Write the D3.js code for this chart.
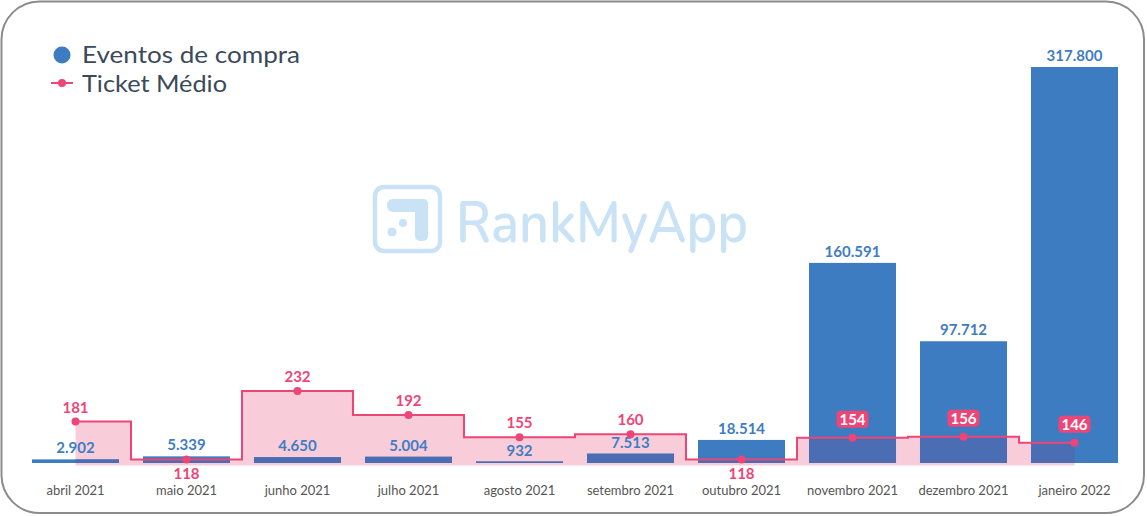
<!DOCTYPE html>
<html>
<head>
<meta charset="utf-8">
<script src="https://cdn.jsdelivr.net/npm/d3@7"></script>
<style>
  html, body { margin: 0; padding: 0; background: #ffffff; }
  svg { display: block; }
</style>
</head>
<body>
<svg id="chart" width="1147" height="516"></svg>
<script>
// ---- Data ----
const categories = ["abril 2021", "maio 2021", "junho 2021", "julho 2021", "agosto 2021",
  "setembro 2021", "outubro 2021", "novembro 2021", "dezembro 2021", "janeiro 2022"];
const eventosCompra = [2902, 5339, 4650, 5004, 932, 7513, 18514, 160591, 97712, 317800];
const ticketMedio = [181, 118, 232, 192, 155, 160, 118, 154, 156, 146];
const seriesNames = ["Eventos de compra", "Ticket Médio"];

// ---- Styles ----
const BLUE = "#3d7cc1";
const BLUE_TEXT = "#3f7dc4";
const PINK = "#ee4577";
const PINK_FILL = "#f8cdd9";
const OVERLAP = "#4a6db3";
const FONT = "Lato, 'Noto Sans', sans-serif";

const W = 1147, H = 516;
const svg = d3.select("#chart");

// card
svg.append("rect")
  .attr("x", 1.5).attr("y", 1.5).attr("width", 1142.5).attr("height", 511.5)
  .attr("rx", 38).attr("ry", 38)
  .attr("fill", "#ffffff").attr("stroke", "#8c8c8c").attr("stroke-width", 2);

// watermark
const wm = svg.append("g").attr("fill", "#c9e2f5");
wm.append("rect").attr("x", 375).attr("y", 187).attr("width", 65).attr("height", 64)
  .attr("rx", 9).attr("fill", "none").attr("stroke", "#c9e2f5").attr("stroke-width", 4.5);
wm.append("path")
  .attr("d", "M393,199 H423 Q428,199 428,204 V236 Q428,241 421.5,241 Q415,241 415,236 V212 H393 Q387,212 387,205.5 Q387,199 393,199 Z");
wm.append("circle").attr("cx", 403).attr("cy", 223).attr("r", 4);
wm.append("circle").attr("cx", 392).attr("cy", 232).attr("r", 4.5);
wm.append("text").attr("x", 456).attr("y", 242)
  .attr("font-family", "'Nunito', 'Open Sans', Lato, sans-serif")
  .attr("font-size", 58).attr("font-weight", 600)
  .attr("textLength", 292).attr("lengthAdjust", "spacingAndGlyphs")
  .text("RankMyApp");

// ---- Scales ----
const x = d3.scaleBand().domain(categories).range([20, 1130])
  .paddingInner(0.216).paddingOuter(0.108);
const yBar = d3.scaleLinear().domain([0, 317800]).range([463, 67]);
const yLine = d3.scaleLinear().domain([108, 300]).range([465.5, 350.1]);

const cx = c => x(c) + x.bandwidth() / 2;
const fmt = d3.formatLocale({ decimal: ",", thousands: ".", grouping: [3], currency: ["", ""] }).format(",d");

const rows = categories.map((c, i) => ({ c, ev: eventosCompra[i], tk: ticketMedio[i] }));

// pink area (behind bars)
const area = d3.area().curve(d3.curveStep)
  .x(d => cx(d.c)).y0(yLine.range()[0]).y1(d => yLine(d.tk));
svg.append("path").datum(rows).attr("d", area).attr("fill", PINK_FILL);

// bars
const barY = v => Math.min(yBar(v), yBar(0) - 1.5);
svg.append("g").selectAll("rect").data(rows).join("rect")
  .attr("x", d => x(d.c)).attr("width", x.bandwidth())
  .attr("y", d => barY(d.ev)).attr("height", d => yBar(0) - barY(d.ev))
  .attr("fill", BLUE);

// overlap of area over bars
const clip = svg.append("defs").append("clipPath").attr("id", "barclip");
clip.selectAll("rect").data(rows).join("rect")
  .attr("x", d => x(d.c)).attr("width", x.bandwidth())
  .attr("y", d => barY(d.ev)).attr("height", d => yBar(0) - barY(d.ev));
svg.append("path").datum(rows).attr("d", area).attr("fill", OVERLAP)
  .attr("clip-path", "url(#barclip)");

// bar labels
svg.append("g").selectAll("text").data(rows).join("text")
  .attr("x", d => cx(d.c)).attr("y", d => barY(d.ev) - 6)
  .attr("text-anchor", "middle")
  .attr("font-family", FONT).attr("font-size", 15).attr("font-weight", 700)
  .attr("fill", BLUE_TEXT)
  .text(d => fmt(d.ev));

// step line
const line = d3.line().curve(d3.curveStep).x(d => cx(d.c)).y(d => yLine(d.tk));
svg.append("path").datum(rows).attr("d", line)
  .attr("fill", "none").attr("stroke", PINK).attr("stroke-width", 2);
svg.append("g").selectAll("circle").data(rows).join("circle")
  .attr("cx", d => cx(d.c)).attr("cy", d => yLine(d.tk)).attr("r", 4)
  .attr("fill", PINK);

// ticket labels
const minTk = d3.min(ticketMedio);
const tl = svg.append("g");
rows.forEach(d => {
  const px = cx(d.c), py = yLine(d.tk);
  const overBar = barY(d.ev) < py - 26;
  if (overBar) {
    const cy = py - 18.5;
    tl.append("rect").attr("x", px - 16).attr("y", cy - 8.5).attr("width", 32).attr("height", 17)
      .attr("rx", 4).attr("fill", PINK);
    tl.append("text").attr("x", px).attr("y", cy + 5.5).attr("text-anchor", "middle")
      .attr("font-family", FONT).attr("font-size", 15).attr("font-weight", 700)
      .attr("fill", "#ffffff").text(fmt(d.tk));
  } else {
    const below = d.tk === minTk;
    tl.append("text").attr("x", px).attr("y", below ? py + 19.5 : py - 9)
      .attr("text-anchor", "middle")
      .attr("font-family", FONT).attr("font-size", 15).attr("font-weight", 700)
      .attr("fill", PINK).text(fmt(d.tk));
  }
});

// x axis labels
const xAxis = d3.axisBottom(x).tickSize(0).tickPadding(0);
const gx = svg.append("g").attr("transform", "translate(0,486)").call(xAxis);
gx.select(".domain").remove();
gx.selectAll("text").attr("font-family", FONT).attr("font-size", 13).attr("fill", "#555555")
  .attr("dy", "0.71em");

// legend
const legendWidths = [218, 145];
const lg = svg.append("g");
lg.append("circle").attr("cx", 62).attr("cy", 55).attr("r", 8.5).attr("fill", BLUE);
lg.append("line").attr("x1", 51).attr("x2", 73).attr("y1", 83).attr("y2", 83)
  .attr("stroke", PINK).attr("stroke-width", 2);
lg.append("circle").attr("cx", 62).attr("cy", 83).attr("r", 4).attr("fill", PINK);
lg.selectAll("text").data(seriesNames).join("text")
  .attr("x", 82).attr("y", (d, i) => 63 + i * 29)
  .attr("font-family", FONT).attr("font-size", 24).attr("fill", "#3b4a5b")
  .attr("textLength", (d, i) => legendWidths[i]).attr("lengthAdjust", "spacingAndGlyphs")
  .text(d => d);
</script>
</body>
</html>
